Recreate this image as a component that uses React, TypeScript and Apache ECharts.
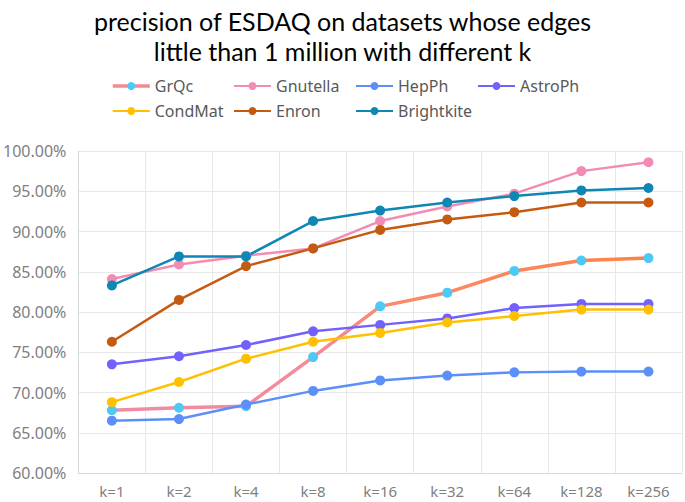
import { useEffect, useRef } from 'react'
import * as echarts from 'echarts'

const categories = ['k=1', 'k=2', 'k=4', 'k=8', 'k=16', 'k=32', 'k=64', 'k=128', 'k=256']

const grqc = [67.8, 68.1, 68.3, 74.4, 80.7, 82.4, 85.1, 86.4, 86.7]
const gnutella = [84.1, 85.9, 87.0, 87.9, 91.3, 93.1, 94.7, 97.5, 98.6]
const hepph = [66.5, 66.7, 68.5, 70.2, 71.5, 72.1, 72.5, 72.6, 72.6]
const astroph = [73.5, 74.5, 75.9, 77.6, 78.4, 79.2, 80.5, 81.0, 81.0]
const condmat = [68.8, 71.3, 74.2, 76.3, 77.4, 78.7, 79.5, 80.3, 80.3]
const enron = [76.3, 81.5, 85.7, 87.9, 90.2, 91.5, 92.4, 93.6, 93.6]
const brightkite = [83.3, 86.9, 86.9, 91.3, 92.6, 93.6, 94.4, 95.1, 95.4]

// legend columns (two rows, four columns)
const legendColumns = [
  ['GrQc', 'CondMat'],
  ['Gnutella', 'Enron'],
  ['HepPh', 'Brightkite'],
  ['AstroPh'],
]

const font = '"Noto Sans", "Open Sans", sans-serif'
const titleFont = 'Lato, "Noto Sans", sans-serif'

export default function App() {
  const chartRef = useRef<HTMLDivElement>(null)

  useEffect(() => {
    if (!chartRef.current) return
    const chart = echarts.init(chartRef.current, null, { renderer: 'svg' })

    const grqcGradient = () =>
      new echarts.graphic.LinearGradient(0, 0, 1, 0, [
        { offset: 0, color: '#F08BA6' },
        { offset: 0.35, color: '#F38A9C' },
        { offset: 0.55, color: '#FB8A6A' },
        { offset: 1, color: '#FF8145' },
      ])

    const line = (name: string, data: number[], color: string) => ({
      name,
      type: 'line',
      data,
      symbol: 'circle',
      symbolSize: 10,
      itemStyle: { color },
      lineStyle: { color, width: 2.5 },
    })

    const legends = legendColumns.map((names, i) => ({
      orient: 'vertical',
      left: 106 + i * 122,
      top: 71,
      itemWidth: 37,
      itemHeight: 10,
      itemGap: 5,
      textStyle: { fontFamily: font, fontSize: 16, color: '#595959', lineHeight: 20 },
      data: names.map(n =>
        n === 'GrQc'
          ? { name: n, lineStyle: { color: '#F48A8C', width: 3.5 } }
          : { name: n }
      ),
    }))

    const option = {
      animation: false,
      title: {
        text: 'precision of ESDAQ on datasets whose edges\nlittle than 1 million with different k',
        left: 'center',
        top: 1,
        textStyle: { fontFamily: titleFont, fontSize: 25, fontWeight: 'normal', color: '#000', lineHeight: 30 },
      },
      legend: legends,
      grid: { left: 78, right: 3, top: 151, bottom: 29 },
      xAxis: {
        type: 'category',
        data: categories,
        axisTick: { show: false },
        axisLine: { lineStyle: { color: '#d9d9d9' } },
        splitLine: { show: true, lineStyle: { color: '#e8e8e8' } },
        axisLabel: { fontFamily: font, fontSize: 15, color: '#808080', margin: 10 },
      },
      yAxis: {
        type: 'value',
        min: 60,
        max: 100,
        interval: 5,
        axisLine: { show: true, lineStyle: { color: '#d9d9d9' } },
        axisTick: { show: false },
        splitLine: { lineStyle: { color: '#e8e8e8' } },
        axisLabel: {
          fontFamily: font,
          fontSize: 16,
          color: '#808080',
          margin: 12,
          formatter: (v: number) => v.toFixed(2) + '%',
        },
      },
      series: [
        {
          name: 'GrQc',
          type: 'line',
          data: grqc,
          symbol: 'circle',
          symbolSize: 10,
          itemStyle: { color: '#4DC9F6' },
          lineStyle: { width: 3.5, color: grqcGradient() },
        },
        line('Gnutella', gnutella, '#F28CB4'),
        line('HepPh', hepph, '#5B8FF9'),
        line('AstroPh', astroph, '#7262FD'),
        line('CondMat', condmat, '#FFC000'),
        line('Enron', enron, '#C55A11'),
        line('Brightkite', brightkite, '#0E87B5'),
      ],
    }

    chart.setOption(option)
    return () => chart.dispose()
  }, [])

  return (
    <div
      ref={chartRef}
      style={{ position: 'fixed', left: 0, top: 0, width: 685, height: 502, background: '#fff' }}
    />
  )
}
